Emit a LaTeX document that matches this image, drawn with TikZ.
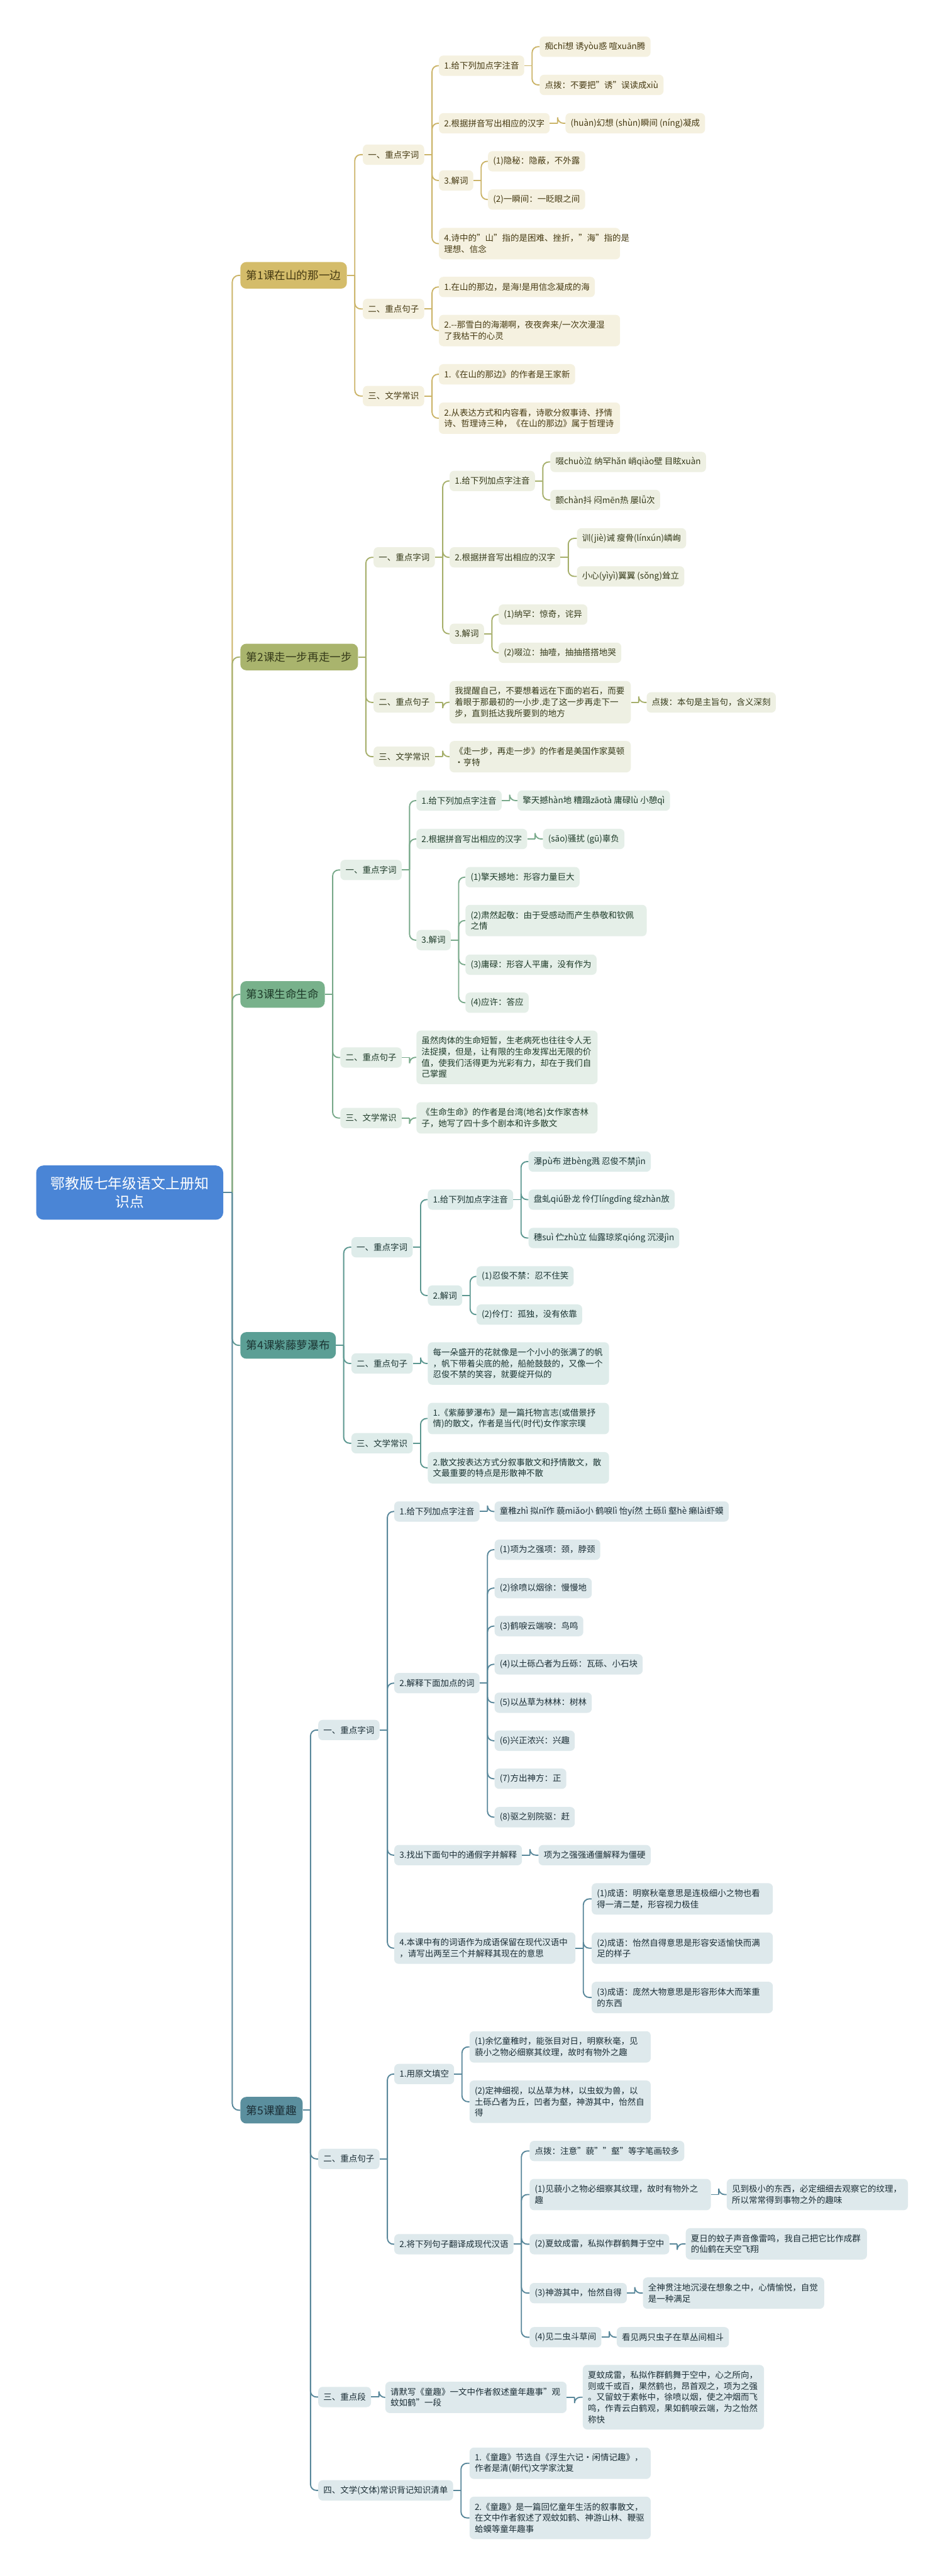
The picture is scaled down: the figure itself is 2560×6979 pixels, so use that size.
\documentclass[tikz,border=0pt]{standalone}
\usepackage{fontspec}
\setmainfont{Noto Sans CJK SC}
\usetikzlibrary{calc}
\definecolor{rootc}{HTML}{4A85D6}
\definecolor{Am}{HTML}{D4BC6A}\definecolor{As}{HTML}{F5F1E0}\definecolor{Al}{HTML}{CBB468}\definecolor{At}{HTML}{463A12}
\definecolor{Bm}{HTML}{A9B46D}\definecolor{Bs}{HTML}{EEF0E3}\definecolor{Bl}{HTML}{A6AF6B}\definecolor{Bt}{HTML}{363B1A}
\definecolor{Cm}{HTML}{78B18B}\definecolor{Cs}{HTML}{E5EFE8}\definecolor{Cl}{HTML}{78A98A}\definecolor{Ct}{HTML}{1E3B29}
\definecolor{Dm}{HTML}{5B9F95}\definecolor{Ds}{HTML}{DEECEA}\definecolor{Dl}{HTML}{5B9790}\definecolor{Dt}{HTML}{1B3533}
\definecolor{Em}{HTML}{5B8F9E}\definecolor{Es}{HTML}{DEE9EC}\definecolor{El}{HTML}{58879A}\definecolor{Et}{HTML}{1B2E36}
\tikzset{
  box/.style={rounded corners=6pt, inner xsep=7pt, inner ysep=2pt, anchor=west,
    font=\fontsize{11.5}{15}\selectfont, align=left, minimum height=27.5pt},
  wr/.style={text width=231.5pt},
  nn2/.style={minimum height=42.5pt}, nn3/.style={minimum height=57.5pt},
  nn4/.style={minimum height=72.5pt}, nn5/.style={minimum height=87.5pt},
  mainbox/.style={rounded corners=8pt, inner xsep=8pt, anchor=west,
    font=\fontsize{15}{18}\selectfont, minimum height=36pt},
  Ab/.style={box, fill=As, text=At}, Amain/.style={mainbox, fill=Am, text=At},
  Bb/.style={box, fill=Bs, text=Bt}, Bmain/.style={mainbox, fill=Bm, text=Bt},
  Cb/.style={box, fill=Cs, text=Ct}, Cmain/.style={mainbox, fill=Cm, text=Ct},
  Db/.style={box, fill=Ds, text=Dt}, Dmain/.style={mainbox, fill=Dm, text=Dt},
  Eb/.style={box, fill=Es, text=Et}, Emain/.style={mainbox, fill=Em, text=Et},
  lk/.style={line width=1.6pt},
}
\newcommand\lnk[3]{\draw[lk,#1] (#2.east) -- ++(21,0) coordinate (jj);
  \draw[lk,#1,rounded corners=8pt] (jj) |- (#3.west);}
\newcommand\rlnk[2]{\draw[lk,#1] (root.east) -- ++(24,0) coordinate (jj);
  \draw[lk,#1,rounded corners=9pt] (jj) |- (#2.west);}
\begin{document}
\begin{tikzpicture}[x=0.5pt,y=-0.5pt]
\useasboundingbox (0,0) rectangle (2560,6979);
\fill[white] (0,0) rectangle (2560,6979);
% root
\node[rounded corners=10pt, fill=rootc, text=white, minimum width=253.5pt, minimum height=73.5pt,
  align=center, font=\fontsize{19.5}{25}\selectfont] (root) at (351.5,3231) {鄂教版七年级语文上册知\\识点};
% ===== Lesson 1 =====
\node[Amain] (L1) at (651,746) {第1课在山的那一边};
\node[Ab] (a1) at (983,419) {一、重点字词};
\node[Ab] (a11) at (1189,178) {1.给下列加点字注音};
\node[Ab] (a111) at (1462,126.5) {痴chī想 诱yòu惑 喧xuān腾};
\node[Ab] (a112) at (1462,230) {点拨：不要把"诱"误读成xiù};
\node[Ab] (a12) at (1189,334) {2.根据拼音写出相应的汉字};
\node[Ab] (a121) at (1532,334) {(huàn)幻想 (shùn)瞬间 (níng)凝成};
\node[Ab] (a13) at (1189,489) {3.解词};
\node[Ab] (a131) at (1322,437) {(1)隐秘：隐蔽，不外露};
\node[Ab] (a132) at (1322,540.5) {(2)一瞬间：一眨眼之间};
\node[Ab,wr,nn2] (a14) at (1189,660) {4.诗中的"山"指的是困难、挫折，"海"指的是\\理想、信念};
\node[Ab] (a2) at (983,837) {二、重点句子};
\node[Ab] (a21) at (1189,777.5) {1.在山的那边，是海!是用信念凝成的海};
\node[Ab,wr,nn2] (a22) at (1189,895.5) {2.-{}-那雪白的海潮啊，夜夜奔来/一次次漫湿\\了我枯干的心灵};
\node[Ab] (a3) at (983,1073) {三、文学常识};
\node[Ab] (a31) at (1189,1014) {1.《在山的那边》的作者是王家新};
\node[Ab,wr,nn2] (a32) at (1189,1133) {2.从表达方式和内容看，诗歌分叙事诗、抒情\\诗、哲理诗三种，《在山的那边》属于哲理诗};
\rlnk{Al}{L1}
\lnk{Al}{L1}{a1}\lnk{Al}{L1}{a2}\lnk{Al}{L1}{a3}
\lnk{Al}{a1}{a11}\lnk{Al}{a1}{a12}\lnk{Al}{a1}{a13}\lnk{Al}{a1}{a14}
\lnk{Al}{a11}{a111}\lnk{Al}{a11}{a112}\lnk{Al}{a12}{a121}
\lnk{Al}{a13}{a131}\lnk{Al}{a13}{a132}
\lnk{Al}{a2}{a21}\lnk{Al}{a2}{a22}\lnk{Al}{a3}{a31}\lnk{Al}{a3}{a32}
% ===== Lesson 2 =====
\node[Bmain] (L2) at (651,1780) {第2课走一步再走一步};
\node[Bb] (b1) at (1012,1510) {一、重点字词};
\node[Bb] (b11) at (1218,1303) {1.给下列加点字注音};
\node[Bb] (b111) at (1491,1251.5) {啜chuò泣 纳罕hǎn 峭qiào壁 目眩xuàn};
\node[Bb] (b112) at (1491,1354.5) {颤chàn抖 闷mēn热 屡lǚ次};
\node[Bb] (b12) at (1218,1510) {2.根据拼音写出相应的汉字};
\node[Bb] (b121) at (1563,1458.5) {训(jiè)诫 瘦骨(línxún)嶙峋};
\node[Bb] (b122) at (1563,1561.5) {小心(yìyì)翼翼 (sǒng)耸立};
\node[Bb] (b13) at (1218,1717) {3.解词};
\node[Bb] (b131) at (1351,1665) {(1)纳罕：惊奇，诧异};
\node[Bb] (b132) at (1351,1768.5) {(2)啜泣：抽噎，抽抽搭搭地哭};
\node[Bb] (b2) at (1012,1903) {二、重点句子};
\node[Bb,wr,nn3] (b21) at (1218,1902.5) {我提醒自己，不要想着远在下面的岩石，而要\\着眼于那最初的一小步.走了这一步再走下一\\步，直到抵达我所要到的地方};
\node[Bb] (b211) at (1752,1903) {点拨：本句是主旨句，含义深刻};
\node[Bb] (b3) at (1012,2050) {三、文学常识};
\node[Bb,wr,nn2] (b31) at (1218,2050) {《走一步，再走一步》的作者是美国作家莫顿\\•亨特};
\rlnk{Bl}{L2}
\lnk{Bl}{L2}{b1}\lnk{Bl}{L2}{b2}\lnk{Bl}{L2}{b3}
\lnk{Bl}{b1}{b11}\lnk{Bl}{b1}{b12}\lnk{Bl}{b1}{b13}
\lnk{Bl}{b11}{b111}\lnk{Bl}{b11}{b112}\lnk{Bl}{b12}{b121}\lnk{Bl}{b12}{b122}
\lnk{Bl}{b13}{b131}\lnk{Bl}{b13}{b132}
\lnk{Bl}{b2}{b21}\lnk{Bl}{b21}{b211}\lnk{Bl}{b3}{b31}
% ===== Lesson 3 =====
\node[Cmain] (L3) at (651,2694) {第3课生命生命};
\node[Cb] (c1) at (922,2357) {一、重点字词};
\node[Cb] (c11) at (1128,2169) {1.给下列加点字注音};
\node[Cb] (c111) at (1402,2169) {擎天撼hàn地 糟蹋zāotà 庸碌lù 小憩qì};
\node[Cb] (c12) at (1128,2273) {2.根据拼音写出相应的汉字};
\node[Cb] (c121) at (1471,2273) {(sāo)骚扰 (gū)辜负};
\node[Cb] (c13) at (1128,2547) {3.解词};
\node[Cb] (c131) at (1261,2376.5) {(1)擎天撼地：形容力量巨大};
\node[Cb,wr,nn2] (c132) at (1261,2494) {(2)肃然起敬：由于受感动而产生恭敬和钦佩\\之情};
\node[Cb] (c133) at (1261,2613.5) {(3)庸碌：形容人平庸，没有作为};
\node[Cb] (c134) at (1261,2716.5) {(4)应许：答应};
\node[Cb] (c2) at (922,2865) {二、重点句子};
\node[Cb,wr,nn4] (c21) at (1128,2864.5) {虽然肉体的生命短暂，生老病死也往往令人无\\法捉摸，但是，让有限的生命发挥出无限的价\\值，使我们活得更为光彩有力，却在于我们自\\己掌握};
\node[Cb] (c3) at (922,3029) {三、文学常识};
\node[Cb,wr,nn2] (c31) at (1128,3028.5) {《生命生命》的作者是台湾(地名)女作家杏林\\子，她写了四十多个剧本和许多散文};
\rlnk{Cl}{L3}
\lnk{Cl}{L3}{c1}\lnk{Cl}{L3}{c2}\lnk{Cl}{L3}{c3}
\lnk{Cl}{c1}{c11}\lnk{Cl}{c1}{c12}\lnk{Cl}{c1}{c13}
\lnk{Cl}{c11}{c111}\lnk{Cl}{c12}{c121}
\lnk{Cl}{c13}{c131}\lnk{Cl}{c13}{c132}\lnk{Cl}{c13}{c133}\lnk{Cl}{c13}{c134}
\lnk{Cl}{c2}{c21}\lnk{Cl}{c3}{c31}
% ===== Lesson 4 =====
\node[Dmain] (L4) at (651,3645) {第4课紫藤萝瀑布};
\node[Db] (d1) at (952,3379) {一、重点字词};
\node[Db] (d11) at (1159,3250) {1.给下列加点字注音};
\node[Db] (d111) at (1432,3147) {瀑pù布 迸bèng溅 忍俊不禁jìn};
\node[Db] (d112) at (1432,3250) {盘虬qiú卧龙 伶仃língdīng 绽zhàn放};
\node[Db] (d113) at (1432,3354) {穗suì 伫zhù立 仙露琼浆qióng 沉浸jìn};
\node[Db] (d12) at (1159,3510) {2.解词};
\node[Db] (d121) at (1291,3458) {(1)忍俊不禁：忍不住笑};
\node[Db] (d122) at (1291,3561.5) {(2)伶仃：孤独，没有依靠};
\node[Db] (d2) at (952,3694) {二、重点句子};
\node[Db,wr,nn3] (d21) at (1159,3694) {每一朵盛开的花就像是一个小小的张满了的帆\\，帆下带着尖底的舱，船舱鼓鼓的，又像一个\\忍俊不禁的笑容，就要绽开似的};
\node[Db] (d3) at (952,3910) {三、文学常识};
\node[Db,wr,nn2] (d31) at (1159,3843) {1.《紫藤萝瀑布》是一篇托物言志(或借景抒\\情)的散文，作者是当代(时代)女作家宗璞};
\node[Db,wr,nn2] (d32) at (1159,3976.5) {2.散文按表达方式分叙事散文和抒情散文，散\\文最重要的特点是形散神不散};
\rlnk{Dl}{L4}
\lnk{Dl}{L4}{d1}\lnk{Dl}{L4}{d2}\lnk{Dl}{L4}{d3}
\lnk{Dl}{d1}{d11}\lnk{Dl}{d1}{d12}
\lnk{Dl}{d11}{d111}\lnk{Dl}{d11}{d112}\lnk{Dl}{d11}{d113}
\lnk{Dl}{d12}{d121}\lnk{Dl}{d12}{d122}
\lnk{Dl}{d2}{d21}\lnk{Dl}{d3}{d31}\lnk{Dl}{d3}{d32}
% ===== Lesson 5 =====
\node[Emain] (L5) at (651,5717) {第5课童趣};
\node[Eb] (e1) at (862,4687) {一、重点字词};
\node[Eb] (e11) at (1068,4095) {1.给下列加点字注音};
\node[Eb] (e111) at (1340,4095) {童稚zhì 拟nǐ作 藐miǎo小 鹤唳lì 怡yí然 土砾lì 壑hè 癞lài虾蟆};
\node[Eb] (e12) at (1068,4560) {2.解释下面加点的词};
\node[Eb] (e121) at (1340,4198.5) {(1)项为之强项：颈，脖颈};
\node[Eb] (e122) at (1340,4302.5) {(2)徐喷以烟徐：慢慢地};
\node[Eb] (e123) at (1340,4405.5) {(3)鹤唳云端唳：鸟鸣};
\node[Eb] (e124) at (1340,4509) {(4)以土砾凸者为丘砾：瓦砾、小石块};
\node[Eb] (e125) at (1340,4613) {(5)以丛草为林林：树林};
\node[Eb] (e126) at (1340,4716) {(6)兴正浓兴：兴趣};
\node[Eb] (e127) at (1340,4819) {(7)方出神方：正};
\node[Eb] (e128) at (1340,4923) {(8)驱之别院驱：赶};
\node[Eb] (e13) at (1068,5026) {3.找出下面句中的通假字并解释};
\node[Eb] (e131) at (1459,5026) {项为之强强通僵解释为僵硬};
\node[Eb,wr,nn2] (e14) at (1068,5278) {4.本课中有的词语作为成语保留在现代汉语中\\，请写出两至三个并解释其现在的意思};
\node[Eb,wr,nn2] (e141) at (1603,5144.5) {(1)成语：明察秋毫意思是连极细小之物也看\\得一清二楚，形容视力极佳};
\node[Eb,wr,nn2] (e142) at (1603,5278) {(2)成语：怡然自得意思是形容安适愉快而满\\足的样子};
\node[Eb,wr,nn2] (e143) at (1603,5411.5) {(3)成语：庞然大物意思是形容形体大而笨重\\的东西};
\node[Eb] (e2) at (862,5849) {二、重点句子};
\node[Eb] (e21) at (1068,5619) {1.用原文填空};
\node[Eb,wr,nn2] (e211) at (1272,5545.5) {(1)余忆童稚时，能张目对日，明察秋毫，见\\藐小之物必细察其纹理，故时有物外之趣};
\node[Eb,wr,nn3] (e212) at (1272,5694) {(2)定神细视，以丛草为林，以虫蚁为兽，以\\土砾凸者为丘，凹者为壑，神游其中，怡然自\\得};
\node[Eb] (e22) at (1068,6080) {2.将下列句子翻译成现代汉语};
\node[Eb] (e221) at (1435,5827.5) {点拨：注意"藐""壑"等字笔画较多};
\node[Eb,wr,nn2] (e222) at (1435,5945.5) {(1)见藐小之物必细察其纹理，故时有物外之\\趣};
\node[Eb,wr,nn2] (e2221) at (1969,5945.5) {见到极小的东西，必定细细去观察它的纹理，\\所以常常得到事物之外的趣味};
\node[Eb] (e223) at (1435,6080) {(2)夏蚊成雷，私拟作群鹤舞于空中};
\node[Eb,wr,nn2] (e2231) at (1858,6079) {夏日的蚊子声音像雷鸣，我自己把它比作成群\\的仙鹤在天空飞翔};
\node[Eb] (e224) at (1435,6212.5) {(3)神游其中，怡然自得};
\node[Eb,wr,nn2] (e2241) at (1742,6212.5) {全神贯注地沉浸在想象之中，心情愉悦，自觉\\是一种满足};
\node[Eb] (e225) at (1435,6332) {(4)见二虫斗草间};
\node[Eb] (e2251) at (1671,6332) {看见两只虫子在草丛间相斗};
\node[Eb] (e3) at (862,6494) {三、重点段};
\node[Eb,wr,nn2] (e31) at (1044,6495) {请默写《童趣》一文中作者叙述童年趣事"观\\蚊如鹤"一段};
\node[Eb,wr,nn5] (e311) at (1579,6494.5) {夏蚊成雷，私拟作群鹤舞于空中，心之所向，\\则或千或百，果然鹤也，昂首观之，项为之强\\。又留蚊于素帐中，徐喷以烟，使之冲烟而飞\\鸣，作青云白鹤观，果如鹤唳云端，为之怡然\\称快};
\node[Eb] (e4) at (862,6747) {四、文学(文体)常识背记知识清单};
\node[Eb,wr,nn2] (e41) at (1272,6673.5) {1.《童趣》节选自《浮生六记•闲情记趣》，\\作者是清(朝代)文学家沈复};
\node[Eb,wr,nn3] (e42) at (1272,6821.5) {2.《童趣》是一篇回忆童年生活的叙事散文，\\在文中作者叙述了观蚊如鹤、神游山林、鞭驱\\蛤蟆等童年趣事};
\rlnk{El}{L5}
\lnk{El}{L5}{e1}\lnk{El}{L5}{e2}\lnk{El}{L5}{e3}\lnk{El}{L5}{e4}
\lnk{El}{e1}{e11}\lnk{El}{e1}{e12}\lnk{El}{e1}{e13}\lnk{El}{e1}{e14}
\lnk{El}{e11}{e111}
\lnk{El}{e12}{e121}\lnk{El}{e12}{e122}\lnk{El}{e12}{e123}\lnk{El}{e12}{e124}
\lnk{El}{e12}{e125}\lnk{El}{e12}{e126}\lnk{El}{e12}{e127}\lnk{El}{e12}{e128}
\lnk{El}{e13}{e131}
\lnk{El}{e14}{e141}\lnk{El}{e14}{e142}\lnk{El}{e14}{e143}
\lnk{El}{e2}{e21}\lnk{El}{e2}{e22}
\lnk{El}{e21}{e211}\lnk{El}{e21}{e212}
\lnk{El}{e22}{e221}\lnk{El}{e22}{e222}\lnk{El}{e22}{e223}\lnk{El}{e22}{e224}\lnk{El}{e22}{e225}
\lnk{El}{e222}{e2221}\lnk{El}{e223}{e2231}\lnk{El}{e224}{e2241}\lnk{El}{e225}{e2251}
\lnk{El}{e3}{e31}\lnk{El}{e31}{e311}
\lnk{El}{e4}{e41}\lnk{El}{e4}{e42}
\end{tikzpicture}
\end{document}
